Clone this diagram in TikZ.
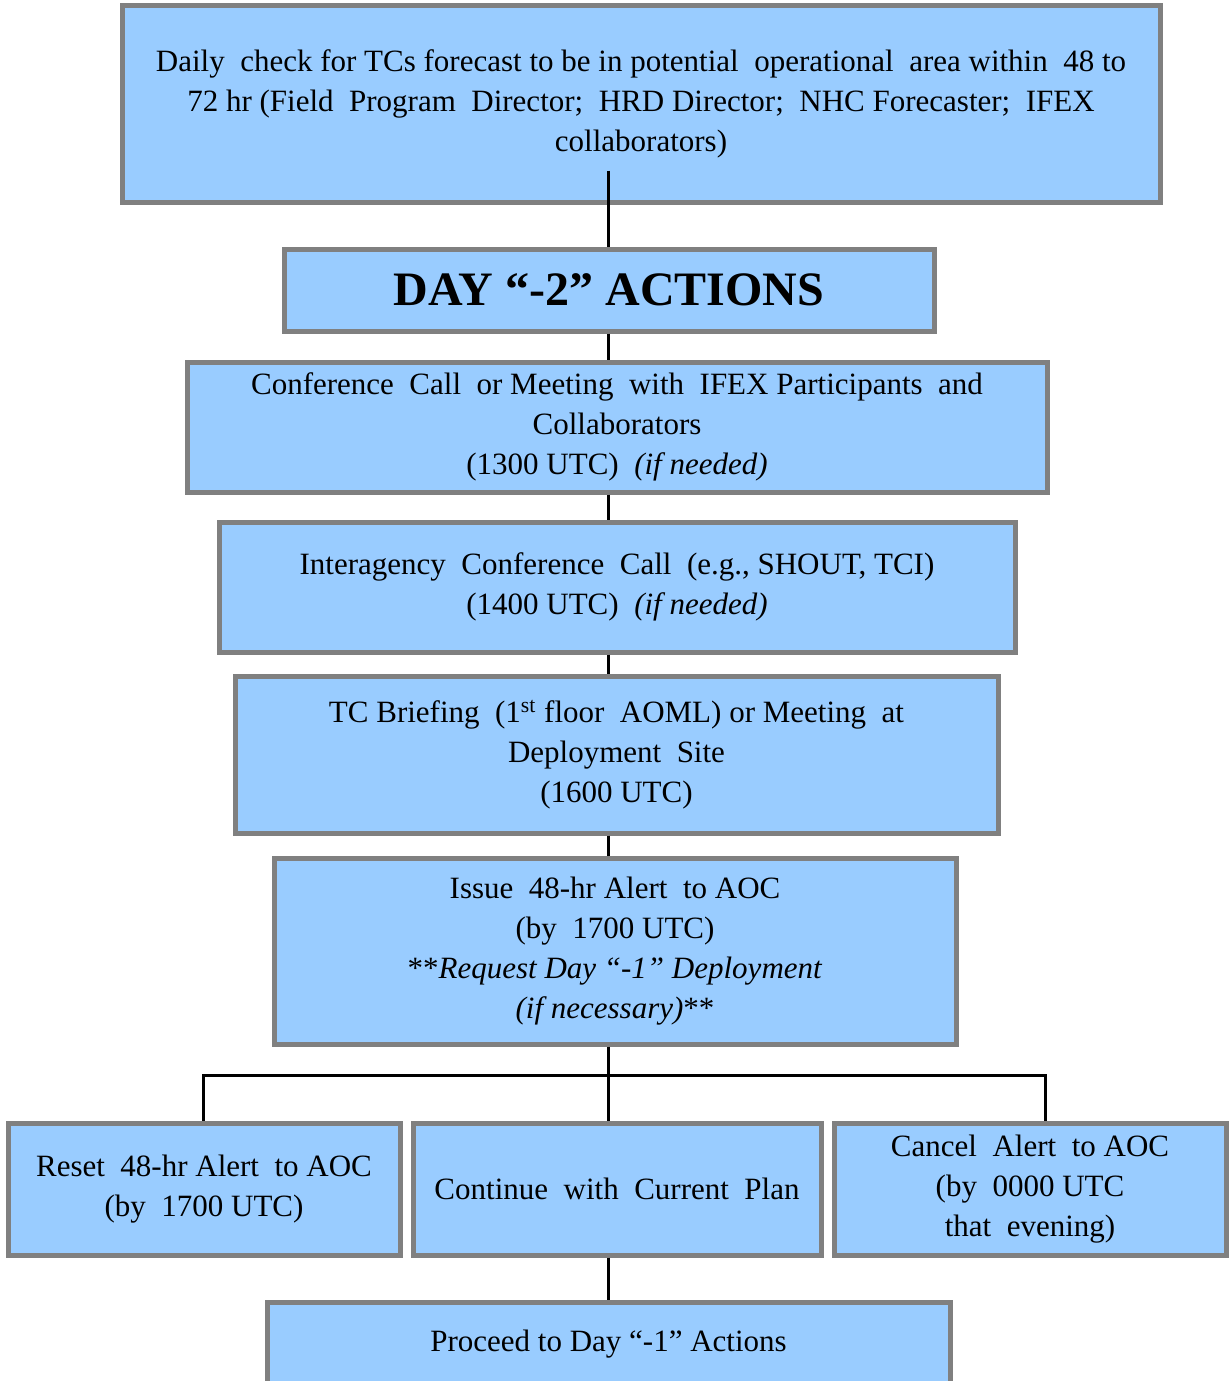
\documentclass[tikz,border=0pt]{standalone}
\usepackage{fontspec}
\setmainfont{Liberation Serif}
\definecolor{boxblue}{HTML}{99CCFF}
\definecolor{boxgray}{HTML}{808080}

\begin{document}
\begin{tikzpicture}[x=0.5pt, y=-0.5pt]
\tikzstyle{box}=[draw=boxgray, line width=2.5pt, fill=boxblue, align=center,
    inner sep=0pt, font=\fontsize{15.5}{20}\selectfont]
\tikzstyle{link}=[line width=1.5pt, black]

\useasboundingbox (0, 0) rectangle (1230, 1381);

\node (top) at (641, 103.5) [box, minimum width=519pt, minimum height=98.5pt]
    {Daily\ \ check for TCs forecast to be in potential\ \ operational\ \ area within\ \ 48 to\\
     72 hr (Field\ \ Program\ \ Director;\ \ HRD Director;\ \ NHC Forecaster;\ \ IFEX\\
     collaborators)};
\node (day) at (609, 290) [box, minimum width=325pt, minimum height=41pt,
    font=\fontsize{24}{28}\selectfont\bfseries] {DAY “-2” ACTIONS};
\node (conf) at (617, 427) [box, minimum width=430pt, minimum height=65pt]
    {Conference\ \ Call\ \ or Meeting\ \ with\ \ IFEX Participants\ \ and\\
     Collaborators\\
     (1300 UTC)\ \ \textit{(if needed)}};
\node (inter) at (617, 587) [box, minimum width=398pt, minimum height=65pt]
    {Interagency\ \ Conference\ \ Call\ \ (e.g., SHOUT, TCI)\\
     (1400 UTC)\ \ \textit{(if needed)}};
\node (brief) at (616.5, 754.5) [box, minimum width=381.5pt, minimum height=78.5pt]
    {TC Briefing\ \ (1\textsuperscript{st} floor\ \ AOML) or Meeting\ \ at\\
     Deployment\ \ Site\\
     (1600 UTC)};
\node (issue) at (615, 951) [box, minimum width=341pt, minimum height=93pt]
    {Issue\ \ 48-hr Alert\ \ to AOC\\
     (by\ \ 1700 UTC)\\
     **\textit{Request Day “-1” Deployment}\\
     \textit{(if necessary)}**};

\node (reset) at (204, 1189) [box, minimum width=196pt, minimum height=66pt]
    {Reset\ \ 48-hr Alert\ \ to AOC\\
     (by\ \ 1700 UTC)};
\node (cont) at (617, 1189) [box, minimum width=204pt, minimum height=66pt]
    {Continue\ \ with\ \ Current\ \ Plan};
\node (cancel) at (1030, 1189) [box, minimum width=196pt, minimum height=66pt]
    {Cancel\ \ Alert\ \ to AOC\\
     (by\ \ 0000 UTC\\
     that\ \ evening)};

\node (proceed) at (608.5, 1344) [box, minimum width=341.5pt, minimum height=42pt]
    {Proceed to Day “-1” Actions};

\coordinate (spine) at (608, 0);
\coordinate (busL) at (203, 1075);
\coordinate (busR) at (1045, 1075);

\draw [link] ([yshift=17pt]top.south -| spine) -- (day.north -| spine);
\draw [link] (day.south -| spine) -- (conf.north -| spine);
\draw [link] (conf.south -| spine) -- (inter.north -| spine);
\draw [link] (inter.south -| spine) -- (brief.north -| spine);
\draw [link] (brief.south -| spine) -- (issue.north -| spine);
\draw [link] (issue.south -| spine) -- (cont.north -| spine);
% branches to the three choices
\draw [link] (reset.north -| busL) |- (busR) -- (cancel.north -| busR);
\draw [link] (cont.south -| spine) -- (proceed.north -| spine);

\end{tikzpicture}
\end{document}
